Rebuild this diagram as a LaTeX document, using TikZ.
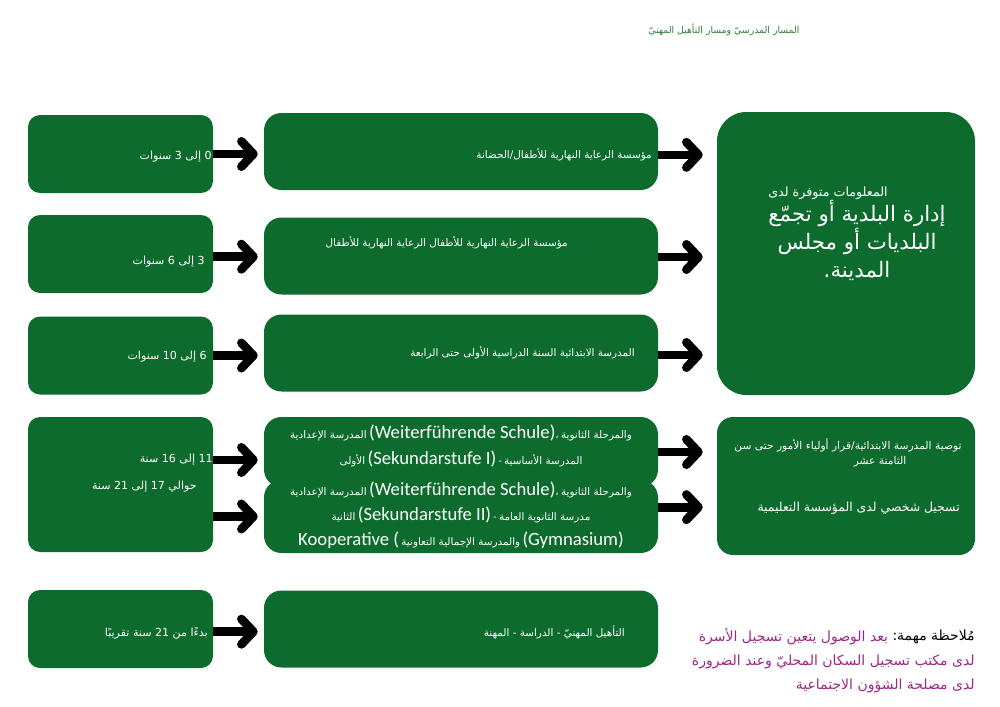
\documentclass[tikz,border=0pt]{standalone}
\usepackage{fontspec}
\setmainfont{Carlito}
\newfontfamily\arabicfont[Script=Arabic]{DejaVu Sans}
\newfontfamily\latinfont{Carlito}
\TeXXeTstate=1
\usetikzlibrary{arrows.meta,calc}

\definecolor{boxgreen}{RGB}{13,107,45}
\definecolor{titlegreen}{RGB}{46,125,60}
\definecolor{notepurple}{RGB}{155,40,135}

\newcommand{\artext}[1]{{\arabicfont\beginR #1\endR}}
\newcommand{\lat}[1]{{\latinfont\fontsize{14}{16}\selectfont #1}}

\tikzset{
    agebox/.style={fill=boxgreen, rounded corners=9pt, inner sep=0pt,
        minimum width=138.75pt, minimum height=58.5pt},
    stagebox/.style={fill=boxgreen, rounded corners=13pt, inner sep=0pt,
        minimum width=295.5pt, minimum height=57.75pt},
    infobox/.style={fill=boxgreen, inner sep=0pt, minimum width=193.5pt},
    boxtext/.style={text=white, inner sep=0pt, font=\fontsize{7.8}{11}\selectfont},
    agetext/.style={boxtext, anchor=east, font=\fontsize{8.3}{11}\selectfont},
    notetext/.style={text=notepurple, inner sep=0pt, anchor=east, font=\fontsize{10.5}{13}\selectfont},
    flowarrow/.style={line width=6.5pt, -{Straight Barb[length=9pt,width=19pt,round]},
        shorten >=4.5pt},
    longarrow/.style={flowarrow, shorten >=10.5pt}
}

\begin{document}
\begin{tikzpicture}[x=0.75pt, y=-0.75pt]
    \useasboundingbox (0,0) rectangle (1000,707);

    % title
    \node[text=titlegreen, inner sep=0pt, font=\fontsize{7}{9}\selectfont] (title)
        at (724,30) {\artext{المسار المدرسيّ ومسار التأهيل المهنيّ}};

    % age boxes
    \node[agebox] (a1) at (120.5,154) {};
    \node[agebox] (a2) at (120.5,254) {};
    \node[agebox] (a3) at (120.5,355.5) {};
    \node[agebox, minimum height=101.25pt] (a4) at (120.5,484.5) {};
    \node[agebox] (a5) at (120.5,629) {};

    % stage boxes
    \node[stagebox] (s1) at (461,151.5) {};
    \node[stagebox] (s2) at (461,256) {};
    \node[stagebox] (s3) at (461,353) {};
    \node[stagebox, minimum height=52.5pt] (s4a) at (461,452) {};
    \node[stagebox, minimum height=54.75pt] (s4b) at (461,516.5) {};
    \node[stagebox] (s5) at (461,629) {};

    % info boxes
    \node[infobox, rounded corners=22pt, minimum height=212.25pt] (r1) at (846,253.5) {};
    \node[infobox, rounded corners=12pt, minimum height=103.5pt] (r2) at (846,486) {};

    % texts of the age boxes
    \node[agetext] (a1t) at (212,157) {\artext{0 إلى 3 سنوات}};
    \node[agetext] (a2t) at (205,262) {\artext{3 إلى 6 سنوات}};
    \node[agetext] (a3t) at (207,357) {\artext{6 إلى 10 سنوات}};
    \node[agetext] (a4t) at (213,460) {\artext{11 إلى 16 سنة}};
    \node[agetext] (a4u) at (197,487) {\artext{حوالي 17 إلى 21 سنة}};
    \node[agetext] (a5t) at (208,633) {\artext{بدءًا من 21 سنة تقريبًا}};

    % texts of the stage boxes
    \node[boxtext, anchor=east] (s1t) at (652,155) {\artext{مؤسسة الرعاية النهارية للأطفال/الحضانة}};
    \node[boxtext, anchor=east] (s2t) at (568,243) {\artext{مؤسسة الرعاية النهارية للأطفال الرعاية النهارية للأطفال}};
    \node[boxtext, anchor=east] (s3t) at (635,353) {\artext{المدرسة الابتدائية السنة الدراسية الأولى حتى الرابعة}};
    \node[boxtext, align=center, font=\fontsize{7.8}{19.5}\selectfont] (s4at) at (461,446) {%
        \artext{المدرسة الإعدادية} \lat{(Weiterführende Schule)}\artext{،} \artext{والمرحلة الثانوية}\\
        \artext{الأولى} \lat{(Sekundarstufe I)} - \artext{المدرسة الأساسية}};
    \node[boxtext, align=center, font=\fontsize{7.8}{18.75}\selectfont] (s4bt) at (461,515) {%
        \artext{المدرسة الإعدادية} \lat{(Weiterführende Schule)}\artext{،} \artext{والمرحلة الثانوية}\\
        \artext{الثانية} \lat{(Sekundarstufe II)} - \artext{مدرسة الثانوية العامة}\\
        \lat{Kooperative (} \artext{والمدرسة الإجمالية التعاونية} \lat{(Gymnasium)}};
    \node[boxtext, anchor=east] (s5t) at (625,632) {\artext{التأهيل المهنيّ - الدراسة - المهنة}};

    % texts of the info boxes
    \node[boxtext, font=\fontsize{9.5}{11}\selectfont] (r1t) at (828,193) {\artext{المعلومات متوفرة لدى}};
    \node[boxtext, align=center, font=\fontsize{16}{21}\selectfont] (r1u) at (857,240) {%
        \artext{إدارة البلدية أو تجمّع}\\
        \artext{البلديات أو مجلس}\\
        \artext{المدينة.}};
    \node[boxtext, font=\fontsize{8}{11}\selectfont] (r2t) at (848,445)
        {\artext{توصية المدرسة الابتدائية/قرار أولياء الأمور حتى سن}};
    \node[boxtext, font=\fontsize{8}{11}\selectfont] (r2u) at (880,462) {\artext{الثامنة عشر}};
    \node[boxtext, anchor=east, font=\fontsize{9.3}{11}\selectfont] (r2v) at (960,508)
        {\artext{تسجيل شخصي لدى المؤسسة التعليمية}};

    % note
    \node[notetext, text=black] (n1) at (975,637) {\artext{مُلاحظة مهمة:}};
    \node[notetext] (n2) at ([xshift=-3pt]n1.west) {\artext{بعد الوصول يتعين تسجيل الأسرة}};
    \node[notetext] (n3) at (975,662) {\artext{لدى مكتب تسجيل السكان المحليّ وعند الضرورة}};
    \node[notetext] (n4) at (975,686) {\artext{لدى مصلحة الشؤون الاجتماعية}};

    % arrows age -> stage
    \draw[flowarrow] (a1.east) -- (a1.east -| s1.west);
    \draw[flowarrow] ([yshift=-2pt]a2.east) -- ([yshift=-2pt]a2.east -| s2.west);
    \draw[flowarrow] (a3.east) -- (a3.east -| s3.west);
    \draw[flowarrow] ([yshift=-6pt]a4.east |- s4a.west) -- ([yshift=-6pt]s4a.west);
    \draw[flowarrow] (a4.east |- s4b.west) -- (s4b.west);
    \draw[flowarrow] ([yshift=-2pt]a5.east) -- ([yshift=-2pt]a5.east -| s5.west);

    % arrows stage -> info
    \draw[longarrow] ([yshift=-2.5pt]s1.east) -- ([yshift=-2.5pt]s1.east -| r1.west);
    \draw[longarrow] ([yshift=-0.75pt]s2.east) -- ([yshift=-0.75pt]s2.east -| r1.west);
    \draw[longarrow] ([yshift=-1.5pt]s3.east) -- ([yshift=-1.5pt]s3.east -| r1.west);
    \draw[longarrow] (s4a.east) -- (s4a.east -| r2.west);
    \draw[longarrow] ([yshift=7pt]s4b.east) -- ([yshift=7pt]s4b.east -| r2.west);
\end{tikzpicture}
\end{document}
